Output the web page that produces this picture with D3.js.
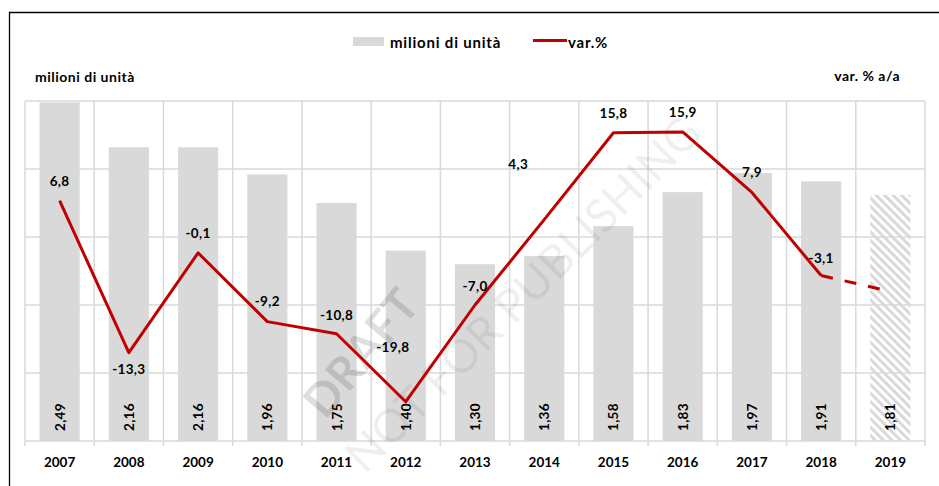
<!DOCTYPE html>
<html>
<head>
<meta charset="utf-8">
<script src="https://cdn.jsdelivr.net/npm/d3@7"></script>
<style>
  body { margin: 0; background: #fff; }
  svg { display: block; font-family: Lato, "Open Sans", sans-serif; }
</style>
</head>
<body>
<script>
let width = 939,
    height = 486,
    margin = ({top: 101, right: 14, bottom: 45, left: 25});

let years = ["2007", "2008", "2009", "2010", "2011", "2012", "2013", "2014", "2015", "2016", "2017", "2018", "2019"];
let units = [2.49, 2.16, 2.16, 1.96, 1.75, 1.40, 1.30, 1.36, 1.58, 1.83, 1.97, 1.91, 1.81];
let varPct = [6.8, -13.3, -0.1, -9.2, -10.8, -19.8, -7.0, 4.3, 15.8, 15.9, 7.9, -3.1, -5.2];
// 2019 is a forecast: hatched bar, dashed line, no label
let forecast = [false, false, false, false, false, false, false, false, false, false, false, false, true];
let unitTicks = [0, 0.5, 1, 1.5, 2, 2.5];

// where each var.% label sits relative to its point
let labelShift = [[0, -20], [0, 16], [0, -20], [0, -21], [0, -19], [-13, -55], [0, -19],
                  [-26, -56], [0, -20], [0, -20], [0, -20], [0, -18], null];

let fmt = v => d3.format(".1f")(v).replace(".", ",").replace("−", "-");
let fmt2 = v => d3.format(".2f")(v).replace(".", ",");

let x = d3.scaleBand()
    .domain(years)
    .range([margin.left, width - margin.right])
    .padding(0);

let y = d3.scaleLinear()
    .domain([0, 2.5])
    .range([height - margin.bottom, margin.top]);

let y2 = d3.scaleLinear()
    .domain([-25, 20])
    .range([height - margin.bottom, margin.top]);

let barW = x.bandwidth() * 0.58;
let cx = d => x(d) + x.bandwidth() / 2;

const svg = d3.select("body").append("svg")
    .attr("width", width)
    .attr("height", height)
    .attr("viewBox", [0, 0, width, height]);

const defs = svg.append("defs");
defs.append("pattern")
    .attr("id", "hatch")
    .attr("patternUnits", "userSpaceOnUse")
    .attr("width", 6)
    .attr("height", 6)
    .attr("patternTransform", "rotate(-45)")
  .append("rect")
    .attr("width", 3)
    .attr("height", 6)
    .attr("fill", "#d9d9d9");

// frame
svg.append("path")
    .attr("d", `M9.5,${height}V12.5H${width}`)
    .attr("fill", "none")
    .attr("stroke", "#000")
    .attr("stroke-width", 1.3);

// horizontal grid
svg.append("g")
    .attr("stroke", "#d9d9d9")
    .attr("stroke-width", 1.5)
  .selectAll("line")
  .data(unitTicks)
  .join("line")
    .attr("x1", margin.left)
    .attr("x2", width - margin.right)
    .attr("y1", d => y(d))
    .attr("y2", d => y(d));

// vertical grid + ticks at category boundaries
svg.append("g")
    .attr("stroke", "#d9d9d9")
    .attr("stroke-width", 1.5)
  .selectAll("line")
  .data(years.map(d => x(d)).concat([width - margin.right]))
  .join("line")
    .attr("x1", d => d)
    .attr("x2", d => d)
    .attr("y1", margin.top)
    .attr("y2", height - margin.bottom + 5);

// bars
svg.append("g")
  .selectAll("rect")
  .data(years)
  .join("rect")
    .attr("x", d => cx(d) - barW / 2)
    .attr("y", (d, i) => y(units[i]))
    .attr("width", barW)
    .attr("height", (d, i) => y(0) - y(units[i]))
    .attr("fill", (d, i) => forecast[i] ? "url(#hatch)" : "#d9d9d9");

// bar value labels
svg.append("g")
    .attr("font-size", 13.5)
    .attr("font-weight", "bold")
    .attr("letter-spacing", 0.3)
    .attr("fill", "#000")
  .selectAll("text")
  .data(years)
  .join("text")
    .attr("transform", d => `translate(${cx(d) + 5},${y(0) - 10}) rotate(-90)`)
    .text((d, i) => fmt2(units[i]));

// x labels
svg.append("g")
    .attr("font-size", 13.5)
    .attr("font-weight", "bold")
    .attr("text-anchor", "middle")
  .selectAll("text")
  .data(years)
  .join("text")
    .attr("x", d => cx(d))
    .attr("y", height - margin.bottom + 26)
    .text(d => d);

// watermark
const wm = svg.append("g")
    .attr("fill", "#000")
    .attr("text-anchor", "middle");
wm.append("text")
    .attr("transform", "translate(360,352) rotate(-50)")
    .attr("font-size", 46)
    .attr("font-weight", "bold")
    .attr("fill-opacity", 0.12)
    .attr("dominant-baseline", "central")
    .text("DRAFT");
wm.append("text")
    .attr("transform", "translate(522,293) rotate(-45)")
    .attr("font-size", 46)
    .attr("fill-opacity", 0.08)
    .attr("textLength", 480)
    .attr("dominant-baseline", "central")
    .text("NOT FOR PUBLISHING");

// var.% line
let pts = years.map((d, i) => [cx(d), y2(varPct[i]), forecast[i]]);
let line = d3.line();
let solid = pts.filter(p => !p[2]);
svg.append("path")
    .attr("d", line(solid))
    .attr("fill", "none")
    .attr("stroke", "#c00000")
    .attr("stroke-width", 3)
    .attr("stroke-linejoin", "round");
svg.append("path")
    .attr("d", line(pts.slice(solid.length - 1)))
    .attr("fill", "none")
    .attr("stroke", "#c00000")
    .attr("stroke-width", 3)
    .attr("stroke-dasharray", "12,12");

// var.% labels
svg.append("g")
    .attr("font-size", 13.5)
    .attr("font-weight", "bold")
    .attr("letter-spacing", 0.3)
    .attr("text-anchor", "middle")
    .attr("dominant-baseline", "central")
  .selectAll("text")
  .data(years.filter((d, i) => labelShift[i]))
  .join("text")
    .attr("x", (d, i) => cx(d) + labelShift[i][0])
    .attr("y", (d, i) => y2(varPct[i]) + labelShift[i][1])
    .text((d, i) => fmt(varPct[i]));

// legend
const lg = svg.append("g")
    .attr("font-size", 15)
    .attr("font-weight", "bold");
lg.append("rect")
    .attr("x", 353).attr("y", 37)
    .attr("width", 31).attr("height", 9)
    .attr("fill", "#d9d9d9");
lg.append("text")
    .attr("x", 390).attr("y", 48)
    .attr("letter-spacing", 0.8)
    .text("milioni di unità");
lg.append("line")
    .attr("x1", 533).attr("x2", 567)
    .attr("y1", 40.5).attr("y2", 40.5)
    .attr("stroke", "#c00000")
    .attr("stroke-width", 3);
lg.append("text")
    .attr("x", 568).attr("y", 48)
    .attr("letter-spacing", 0.8)
    .text("var.%");

// axis titles
svg.append("text")
    .attr("x", 35).attr("y", 82)
    .attr("font-size", 14)
    .attr("font-weight", "bold")
    .attr("letter-spacing", 0.5)
    .text("milioni di unità");
svg.append("text")
    .attr("x", 900).attr("y", 81)
    .attr("font-size", 14)
    .attr("font-weight", "bold")
    .attr("text-anchor", "end")
    .attr("letter-spacing", 0.5)
    .text("var. % a/a");
</script>
</body>
</html>
